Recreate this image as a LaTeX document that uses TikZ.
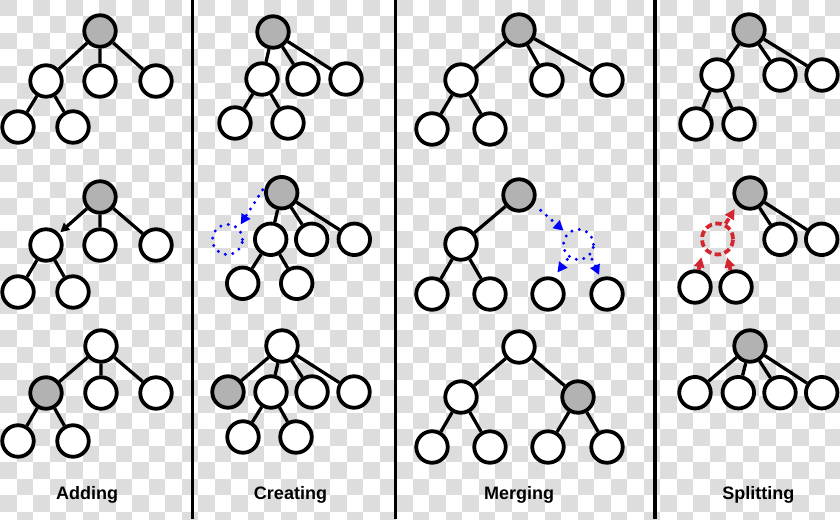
\documentclass[tikz,border=0pt]{standalone}
\usepackage{fontspec}
\setmainfont{Liberation Sans}
\usetikzlibrary{arrows.meta}
\definecolor{chk}{RGB}{221,221,221}
\definecolor{ngray}{RGB}{178,178,178}
\definecolor{dblue}{RGB}{0,0,255}
\definecolor{dred}{RGB}{212,38,48}
\tikzset{
  nd/.style={circle,draw=black,line width=3.8pt,fill=white,minimum size=31.5pt,inner sep=0pt},
  gn/.style={nd,fill=ngray},
  ed/.style={line width=3.3pt,black},
  blackarr/.style={ed,-{Triangle[length=9pt,width=9pt]},shorten >=1.5pt},
  bloop/.style={circle,draw=dblue,line width=3.3pt,dash pattern=on 0pt off 7.6pt,line cap=round,minimum size=30pt,inner sep=0pt},
  barr/.style={draw=dblue,line width=3.3pt,dash pattern=on 0pt off 7.6pt,line cap=round,-{Triangle[length=10pt,width=10pt,fill=dblue]}},
  rloop/.style={circle,draw=dred,line width=3.8pt,dash pattern=on 6.5pt off 3.5pt,minimum size=31pt,inner sep=0pt},
  rarr/.style={draw=dred,line width=3.8pt,dash pattern=on 6pt off 3.5pt,-{Triangle[length=10pt,width=10pt,fill=dred]}},
  lbl/.style={font=\bfseries\fontsize{18}{20}\selectfont,anchor=base,inner sep=0pt},
  divider/.style={line width=3.5pt,black},
}
\begin{document}
\begin{tikzpicture}[x=1pt,y=-1pt]
\useasboundingbox (0,0) rectangle (840,519);
% transparency checkerboard
\begin{scope}
\clip (0,0) rectangle (840,519);
\fill[white] (0,0) rectangle (840,519);
\foreach \i in {0,...,50}{
  \foreach \j in {0,...,31}{
    \pgfmathtruncatemacro{\chkp}{mod(\i+\j,2)}
    \ifnum\chkp=0
      \fill[chk] (\i*16.5,\j*16.5) rectangle ++(16.5,16.5);
    \fi
  }
}
\end{scope}
% dividers
\draw[divider] (192.5,0) -- (192.5,519);
\draw[divider] (395.5,0) -- (395.5,519);
\draw[divider] (655,0) -- (655,519);

% ===== Adding =====
\node[gn] (A1r) at (100,31) {};
\node[nd] (A1a) at (46,81) {};
\node[nd] (A1b) at (100,81) {};
\node[nd] (A1c) at (156,81) {};
\node[nd] (A1d) at (18,127) {};
\node[nd] (A1e) at (73,127) {};
\draw[ed] (A1r)--(A1a) (A1r)--(A1b) (A1r)--(A1c) (A1a)--(A1d) (A1a)--(A1e);

\node[gn] (A2r) at (100,197) {};
\node[nd] (A2a) at (46,245) {};
\node[nd] (A2b) at (100,245) {};
\node[nd] (A2c) at (156,245) {};
\node[nd] (A2d) at (18,292) {};
\node[nd] (A2e) at (73,292) {};
\draw[blackarr] (A2r)--(A2a);
\draw[ed] (A2r)--(A2b) (A2r)--(A2c) (A2a)--(A2d) (A2a)--(A2e);

\node[nd] (A3r) at (101,346) {};
\node[gn] (A3a) at (46,393) {};
\node[nd] (A3b) at (101,393) {};
\node[nd] (A3c) at (156,393) {};
\node[nd] (A3d) at (18,441) {};
\node[nd] (A3e) at (73,441) {};
\draw[ed] (A3r)--(A3a) (A3r)--(A3b) (A3r)--(A3c) (A3a)--(A3d) (A3a)--(A3e);
\node[lbl] (LA) at (87,499.5) {Adding};

% ===== Creating =====
\node[gn] (C1r) at (273,32) {};
\node[nd] (C1a) at (262,79) {};
\node[nd] (C1b) at (303,79) {};
\node[nd] (C1c) at (346,79) {};
\node[nd] (C1d) at (235,123) {};
\node[nd] (C1e) at (288,123) {};
\draw[ed] (C1r)--(C1a) (C1r)--(C1b) (C1r)--(C1c) (C1a)--(C1d) (C1a)--(C1e);

\node[gn] (C2r) at (281.7,192.7) {};
\node[nd] (C2a) at (270.7,239.3) {};
\node[nd] (C2b) at (311.7,239.3) {};
\node[nd] (C2c) at (354.3,239.3) {};
\node[nd] (C2d) at (242.7,283.3) {};
\node[nd] (C2e) at (296.7,283.3) {};
\draw[ed] (C2r)--(C2a) (C2r)--(C2b) (C2r)--(C2c) (C2a)--(C2d) (C2a)--(C2e);
\node[bloop] (CB) at (227.5,239.5) {};
\draw[barr,shorten <=7pt,shorten >=3.4pt] (C2r.150)--(CB.47);

\node[nd] (C3r) at (282,346) {};
\node[gn] (C3a) at (228,392) {};
\node[nd] (C3b) at (271,392) {};
\node[nd] (C3c) at (312,392) {};
\node[nd] (C3d) at (354,392) {};
\node[nd] (C3e) at (243,437) {};
\node[nd] (C3f) at (296,437) {};
\draw[ed] (C3r)--(C3a) (C3r)--(C3b) (C3r)--(C3c) (C3r)--(C3d) (C3b)--(C3e) (C3b)--(C3f);
\node[lbl] (LC) at (290.5,499.5) {Creating};

% ===== Merging =====
\node[gn] (M1r) at (519,30) {};
\node[nd] (M1a) at (461,80) {};
\node[nd] (M1b) at (547,80) {};
\node[nd] (M1c) at (607,80) {};
\node[nd] (M1d) at (432,129) {};
\node[nd] (M1e) at (490,129) {};
\draw[ed] (M1r)--(M1a) (M1r)--(M1b) (M1r)--(M1c) (M1a)--(M1d) (M1a)--(M1e);

\node[gn] (M2r) at (519,195) {};
\node[nd] (M2a) at (461,244) {};
\node[nd] (M2d) at (432,294) {};
\node[nd] (M2e) at (490,294) {};
\node[nd] (M2f) at (548,294) {};
\node[nd] (M2g) at (607,294) {};
\draw[ed] (M2r)--(M2a) (M2a)--(M2d) (M2a)--(M2e);
\node[bloop] (MB) at (578.5,244.5) {};
\draw[barr,shorten <=9pt,shorten >=3.6pt] (M2r.328)--(MB.137);
\draw[barr,shorten <=2pt,shorten >=6pt] (MB.233)--(M2f.71);
\draw[barr,shorten <=3.5pt,shorten >=3pt] (MB.316)--(M2g.112);

\node[nd] (M3r) at (519,347) {};
\node[nd] (M3a) at (461,397) {};
\node[gn] (M3b) at (578,397) {};
\node[nd] (M3d) at (432,447) {};
\node[nd] (M3e) at (490,447) {};
\node[nd] (M3f) at (548,447) {};
\node[nd] (M3g) at (607,447) {};
\draw[ed] (M3r)--(M3a) (M3r)--(M3b) (M3a)--(M3d) (M3a)--(M3e) (M3b)--(M3f) (M3b)--(M3g);
\node[lbl] (LM) at (519,499.5) {Merging};

% ===== Splitting =====
\node[gn] (S1r) at (749,30) {};
\node[nd] (S1a) at (717,75) {};
\node[nd] (S1b) at (780,75) {};
\node[nd] (S1c) at (822,75) {};
\node[nd] (S1d) at (696,124) {};
\node[nd] (S1e) at (739,124) {};
\draw[ed] (S1r)--(S1a) (S1r)--(S1b) (S1r)--(S1c) (S1a)--(S1d) (S1a)--(S1e);

\node[gn] (S2r) at (750,193) {};
\node[nd] (S2b) at (780,239.3) {};
\node[nd] (S2c) at (821.7,239.3) {};
\node[nd] (S2d) at (695,287) {};
\node[nd] (S2e) at (736,287) {};
\draw[ed] (S2r)--(S2b) (S2r)--(S2c);
\node[rloop] (RB) at (717.5,239) {};
\draw[rarr,shorten >=4.7pt] (RB.62)--(S2r.223);
\draw[rarr,shorten >=8.5pt] (S2d.78)--(RB.215);
\draw[rarr,shorten >=3.5pt] (S2e.108)--(RB.300);

\node[gn] (S3r) at (750,346) {};
\node[nd] (S3a) at (695,392.7) {};
\node[nd] (S3b) at (738.3,392.7) {};
\node[nd] (S3c) at (780,392.7) {};
\node[nd] (S3d) at (821.7,392.7) {};
\draw[ed] (S3r)--(S3a) (S3r)--(S3b) (S3r)--(S3c) (S3r)--(S3d);
\node[lbl] (LS) at (758.3,499.5) {Splitting};
\end{tikzpicture}
\end{document}
